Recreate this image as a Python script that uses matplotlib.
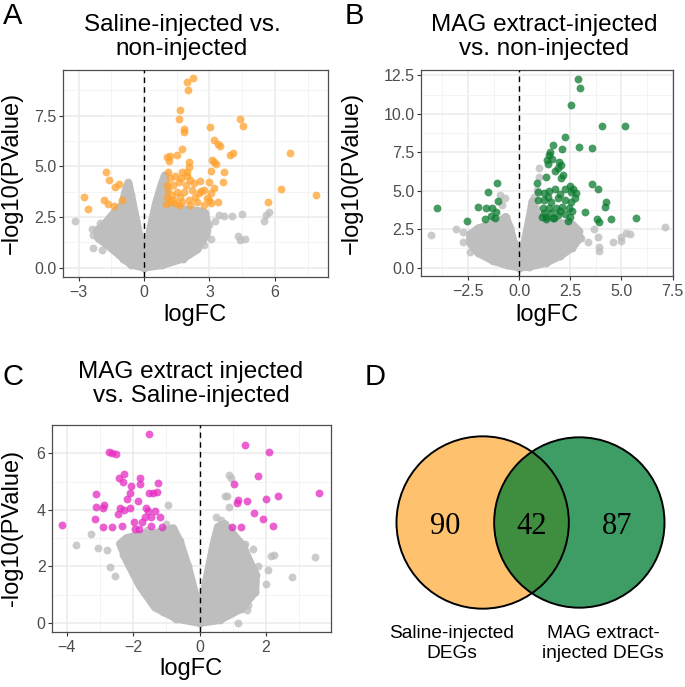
import numpy as np
import matplotlib
matplotlib.use("Agg")
import matplotlib.pyplot as plt
from matplotlib.patches import Polygon, Circle

plt.rcParams['font.family'] = ['Liberation Sans', 'DejaVu Sans']

# ---------------- data ----------------
# Panel A: Saline-injected vs. non-injected
a_sig_x = [2.24, 1.99, 2.01, 1.65, 1.58, 1.81, 1.81, 4.41, 4.52, 3.03, 3.22, 3.37, 3.49, 1.75, 4.10,
           3.95, 6.68, 1.04, 1.19, 1.15, 1.53, 2.04, 2.08, 3.11, 3.19, 3.06, 3.31, 3.68, 3.64, 1.12,
           1.73, 1.96, 2.11, 2.57, 3.00, 3.22, 2.63, 3.09, 3.37, 2.88, 3.06, 5.67, 6.28, 7.89,
           -1.76, -1.61, -1.33, -1.13, -2.76, -2.56, -1.82, -1.64, -1.38, -1.03,
           1.19, 1.42, 1.35, 1.12, 1.27, 1.50, 1.65, 1.19, 1.42, 1.73, 1.93, 2.19, 2.34, 2.04, 2.42,
           2.27, 1.58, 1.84, 1.04, 1.07, 2.11, 2.73, 2.50, 1.96, 1.70, 1.35, 1.01, 2.73, 2.96, 1.58]
a_sig_y = [9.34, 9.17, 8.78, 7.80, 7.34, 6.84, 6.68, 7.34, 7.01, 6.96, 6.31, 6.10, 5.98, 5.85, 5.65,
           5.57, 5.65, 5.45, 5.52, 5.27, 5.54, 5.19, 4.99, 5.32, 5.19, 4.78, 5.11, 4.71, 4.21, 4.74,
           4.74, 4.71, 4.33, 4.28, 4.21, 3.92, 3.80, 3.67, 3.22, 3.42, 3.17, 3.26, 3.88, 3.59,
           4.74, 4.31, 3.98, 4.15, 3.50, 2.89, 3.34, 3.12, 3.06, 3.34,
           4.41, 4.50, 4.08, 3.83, 3.59, 3.75, 3.50, 3.26, 3.17, 3.26, 4.08, 3.83, 3.50, 3.34, 3.26,
           4.16, 4.25, 3.75, 3.50, 4.08, 3.09, 3.09, 3.67, 4.50, 4.41, 3.34, 3.12, 3.83, 3.34, 3.09]
a_grey_x = [-3.17, -2.33, -2.33, -1.94, 3.26, 3.68, 4.03, 4.49, 5.51, 5.59, 5.71, 4.30, 4.41, 4.61,
            3.08, 2.73, 2.96, 2.88, 3.46, -2.4, -2.0, -0.7, 0.9, 1.0]
a_grey_y = [2.31, 1.60, 0.99, 0.89, 2.31, 2.55, 2.55, 2.64, 2.31, 2.60, 2.73, 1.57, 1.36, 1.40,
            1.40, 1.11, 2.10, 1.82, 2.60, 1.9, 2.2, 4.0, 4.3, 3.9]
# outline of the dense cloud of non-significant genes
a_cloud_x = [0.0, 0.08, 0.3, 0.55, 0.8, 0.95, 1.05, 1.5, 2.0, 2.5, 2.8, 2.9, 2.85, 2.45, 1.8, 0.8,
             0.0, -0.6, -0.95, -1.55, -2.1, -2.15, -1.85, -1.35, -1.0, -0.85, -0.72, -0.6, -0.35, -0.08]
a_cloud_y = [0.0, 0.85, 2.0, 3.2, 4.1, 4.55, 3.0, 2.9, 2.85, 2.8, 2.7, 2.2, 1.6, 0.9, 0.45, 0.12,
             0.0, 0.15, 0.45, 1.0, 1.45, 1.85, 2.1, 2.75, 3.1, 3.8, 4.2, 3.6, 2.3, 0.85]

# Panel B: MAG extract-injected vs. non-injected
b_sig_x = [2.88, 2.96, 2.52, 4.03, 5.15, 2.22, 1.66, 2.91, 3.54, 2.09, 1.53, 1.45, 1.37, 1.60, 1.40,
           1.97, 2.06, 1.76, 1.89, 2.14, 2.02, 1.33, 3.54, 3.87, 2.47, 2.63, 2.55, 2.80, 2.22, 1.73,
           1.48, 1.20, 0.94, 0.86, 0.90, 1.23, 1.56, 1.89, 2.22, 2.55, 2.71, 2.42, 2.11, 1.81, 1.48,
           1.15, 1.23, 1.56, 1.89, 2.22, 1.32, 1.64, 2.38, 3.21, 4.24, 4.19, 3.78, 3.91, 4.49, 5.71,
           1.30, 1.70, 2.00, 2.60, 1.40, 2.00, 2.50, 1.10,
           -1.10, -1.53, -1.04, -2.01, -1.64, -1.32, -1.12, -1.40, -1.68, -1.20, -4.03, -2.55]
b_sig_y = [12.25, 11.69, 10.56, 9.20, 9.20, 8.46, 7.97, 7.81, 7.75, 7.68, 7.49, 7.32, 6.99, 7.03, 6.71,
           6.88, 6.67, 6.28, 6.49, 6.02, 5.80, 5.91, 5.43, 5.11, 5.30, 5.11, 4.89, 4.83, 5.11, 5.11,
           4.98, 4.83, 4.89, 5.48, 4.39, 4.39, 4.29, 4.50, 4.39, 4.29, 4.50, 3.85, 3.96, 3.85, 3.90,
           3.90, 3.53, 3.53, 3.42, 3.46, 3.16, 3.25, 3.03, 3.64, 4.24, 3.96, 3.16, 2.99, 3.16, 3.20,
           3.30, 3.20, 3.70, 3.70, 4.60, 4.80, 3.30, 3.30,
           5.48, 4.94, 4.33, 3.96, 3.85, 3.90, 3.64, 3.38, 3.16, 3.20, 3.85, 3.03]
b_grey_x = [-4.31, -3.08, -2.75, -2.75, -2.38, -2.14, -0.95, -0.71, -0.82, 0.99, 0.99, 0.87, 3.04,
            3.67, 3.87, 3.92, 3.92, 4.61, 4.97, 4.97, 5.21, 5.43, 7.11, 2.63, 3.37, 0.7, 0.8]
b_grey_y = [2.12, 2.51, 2.34, 1.65, 1.00, 1.36, 4.72, 4.50, 4.07, 6.45, 5.91, 5.04, 1.95,
            2.51, 1.97, 1.36, 1.08, 1.69, 1.73, 2.01, 2.23, 2.19, 2.62, 2.55, 1.69, 4.6, 3.9]
b_cloud_x = [0.0, 0.07, 0.3, 0.5, 0.65, 0.8, 1.0, 1.5, 2.0, 2.6, 2.9, 2.95, 2.6, 2.0, 1.3, 0.5, 0.0,
             -0.6, -1.3, -2.0, -2.4, -2.4, -2.0, -1.5, -1.0, -0.66, -0.45, -0.25, -0.07]
b_cloud_y = [0.0, 0.6, 1.9, 3.2, 4.3, 3.6, 3.1, 2.95, 2.9, 2.8, 2.4, 1.9, 1.3, 0.75, 0.3, 0.05, 0.0,
             0.15, 0.45, 0.95, 1.6, 2.15, 2.55, 2.75, 3.0, 3.3, 2.6, 1.6, 0.6]

# Panel C: MAG extract injected vs. Saline-injected
c_sig_x = [-1.52, -2.72, -2.65, -2.52, 1.36, 2.10, -2.27, -2.42, -2.31, -1.79, -1.81, -2.07, -1.25,
           -3.11, -2.11, -1.53, -1.40, -1.28, -2.19, -1.87, -3.13, -2.87, -2.90, -2.40, -2.29, -2.09,
           -2.45, -1.63, -1.56, -1.36, -1.46, -1.20, -1.66, -3.14, -2.92, -2.65, -2.35, -1.97, -1.74,
           -1.94, -1.84, -1.48, -1.13, -4.16, 1.04, 1.75, 1.16, 1.13, 1.43, 2.00, 2.36, 3.59, 1.64,
           1.90, 2.20, 0.98, 1.24]
c_sig_y = [6.68, 6.03, 6.01, 5.97, 6.30, 6.03, 5.25, 5.11, 4.99, 5.11, 4.90, 4.84, 4.94,
           4.55, 4.58, 4.58, 4.60, 4.64, 4.37, 4.31, 4.11, 4.17, 4.05, 4.05, 4.01, 4.05,
           3.87, 4.05, 3.97, 3.97, 3.75, 3.75, 3.75, 3.68, 3.40, 3.40, 3.44, 3.58, 3.58,
           3.31, 3.31, 3.42, 3.38, 3.45, 4.90, 5.21, 4.34, 4.23, 4.31, 4.37, 4.49, 4.60, 3.90,
           3.66, 3.42, 3.38, 3.38]
c_grey_x = [-3.28, -3.74, -3.06, -2.80, -2.70, -2.55, -1.11, 0.35, 1.16, 1.44, 1.46, 0.90, 0.95, 0.83,
            0.75, 0.90, 1.38, 1.36, 1.75, 2.07, 2.15, 2.25, 2.00, 2.78, 3.49, -0.95, 0.50, 0.65,
            -2.3, -1.6, -1.0, 1.1, 1.6]
c_grey_y = [3.16, 2.75, 2.66, 2.57, 1.98, 1.65, 0.37, 0.80, 0.00, 0.47, 0.63, 5.23, 5.11, 4.49,
            4.49, 4.11, 2.79, 2.34, 2.01, 1.87, 2.37, 2.40, 1.37, 1.63, 2.34, 4.17, 3.75, 3.64,
            2.4, 3.3, 3.5, 3.0, 2.6]
c_cloud_x = [0.0, 0.06, 0.25, 0.42, 0.55, 0.75, 1.0, 1.3, 1.5, 1.7, 1.68, 1.25, 0.6, 0.0, -0.7, -1.35,
             -1.8, -2.0, -2.2, -2.4, -2.2, -1.7, -1.25, -0.8, -0.6, -0.35, -0.06]
c_cloud_y = [0.0, 0.7, 1.8, 2.8, 3.4, 3.5, 3.15, 2.75, 2.2, 1.7, 1.1, 0.5, 0.1, 0.0, 0.15, 0.55,
             1.3, 1.75, 2.2, 2.8, 3.0, 3.15, 3.2, 3.35, 2.9, 2.0, 0.7]

# Panel D: Venn counts (Saline only, shared, MAG only)
venn_counts = [90, 42, 87]
venn_labels = ["Saline-injected\nDEGs", "MAG extract-\ninjected DEGs"]

# ---------------- figure ----------------
W, H = 685, 687
fig = plt.figure(figsize=(W / 100, H / 100), dpi=100)

PT = 32          # marker area (pt^2)
PT_D = np.sqrt(PT)


def fx(px):
    return px / W


def fy(py):
    return 1 - py / H


def minus(s):
    return s.replace('-', '\u2212')


def volcano(box, xlim, ylim, xticks, xlabels, yticks, ylabels,
            cloud_x, cloud_y, grey_x, grey_y, sig_x, sig_y, col):
    l, t, r, b = box
    ax = fig.add_axes([fx(l), fy(b), (r - l) / W, (b - t) / H])
    ax.set_xticks(xticks)
    ax.set_xticklabels([minus(s) for s in xlabels])
    ax.set_yticks(yticks)
    ax.set_yticklabels([minus(s) for s in ylabels])
    step_x = xticks[1] - xticks[0]
    step_y = yticks[1] - yticks[0]
    ax.set_xticks(np.arange(xticks[0] - step_x * 1.5, xticks[-1] + step_x, step_x), minor=True)
    ax.set_yticks(np.arange(yticks[0] - step_y * 1.5, yticks[-1] + step_y, step_y), minor=True)
    ax.set_xlim(*xlim)
    ax.set_ylim(*ylim)
    ax.grid(True, which='major', color='#EBEBEB', lw=1.1, zorder=0)
    ax.grid(True, which='minor', color='#F2F2F2', lw=0.6, zorder=0)
    ax.set_axisbelow(True)
    ax.tick_params(which='minor', length=0)
    ax.tick_params(which='major', length=2.6, width=0.8, color='#333333',
                   labelsize=11.5, labelcolor='#4D4D4D')
    ax.tick_params(axis='x', pad=3)
    ax.tick_params(axis='y', pad=2)
    for s in ax.spines.values():
        s.set_color('#4D4D4D')
        s.set_linewidth(0.9)
    grey = '#BEBEBE'
    ax.add_patch(Polygon(np.column_stack([cloud_x, cloud_y]), closed=True,
                         facecolor=grey, edgecolor=grey, lw=PT_D, joinstyle='round', zorder=2))
    ax.scatter(cloud_x, cloud_y, s=PT, color=grey, lw=0, zorder=2)
    ax.scatter(grey_x, grey_y, s=PT, color=grey, alpha=0.8, lw=0, zorder=3)
    ax.scatter(sig_x, sig_y, s=PT, color=col, alpha=0.75, lw=0, zorder=4)
    ax.axvline(0, color='black', lw=1.0, ls=(0, (4, 3)), zorder=5)
    return ax


volcano((63, 70, 328, 277), (-3.72, 8.44), (-0.46, 9.75),
        [-3, 0, 3, 6], ['-3', '0', '3', '6'],
        [0, 2.5, 5.0, 7.5], ['0.0', '2.5', '5.0', '7.5'],
        a_cloud_x, a_cloud_y, a_grey_x, a_grey_y, a_sig_x, a_sig_y, '#FFA22E')
volcano((421, 70, 673, 276), (-4.8, 7.52), (-0.55, 12.85),
        [-2.5, 0, 2.5, 5.0, 7.5], ['-2.5', '0.0', '2.5', '5.0', '7.5'],
        [0, 2.5, 5.0, 7.5, 10.0, 12.5], ['0.0', '2.5', '5.0', '7.5', '10.0', '12.5'],
        b_cloud_x, b_cloud_y, b_grey_x, b_grey_y, b_sig_x, b_sig_y, '#0A7A2E')
volcano((52, 425, 331, 632), (-4.45, 3.96), (-0.32, 7.0),
        [-4, -2, 0, 2], ['-4', '-2', '0', '2'],
        [0, 2, 4, 6], ['0', '2', '4', '6'],
        c_cloud_x, c_cloud_y, c_grey_x, c_grey_y, c_sig_x, c_sig_y, '#E52BC1')

# titles, axis labels, panel letters
tkw = dict(fontsize=17.5, ha='center', va='baseline', color='black')
fig.text(fx(182), fy(31), "Saline-injected vs.", **tkw)
fig.text(fx(182), fy(55), "non-injected", **tkw)
fig.text(fx(544), fy(31), "MAG extract-injected", **tkw)
fig.text(fx(544), fy(55), "vs. non-injected", **tkw)
fig.text(fx(191), fy(378), "MAG extract injected", **tkw)
fig.text(fx(191), fy(402), "vs. Saline-injected", **tkw)

lkw = dict(fontsize=17, color='black')
fig.text(fx(195), fy(321), "logFC", ha='center', va='baseline', **lkw)
fig.text(fx(547), fy(321), "logFC", ha='center', va='baseline', **lkw)
fig.text(fx(191), fy(675), "logFC", ha='center', va='baseline', **lkw)
fig.text(fx(12), fy(173), "\u2212log10(PValue)", rotation=90, ha='center', va='center', **lkw)
fig.text(fx(352), fy(173), "\u2212log10(PValue)", rotation=90, ha='center', va='center', **lkw)
fig.text(fx(12), fy(528), "-log10(PValue)", rotation=90, ha='center', va='center', **lkw)

pkw = dict(fontsize=21, ha='left', va='baseline', color='black')
fig.text(fx(3), fy(24), "A", **pkw)
fig.text(fx(345), fy(24), "B", **pkw)
fig.text(fx(3), fy(385), "C", **pkw)
fig.text(fx(365), fy(385), "D", **pkw)

# ---------------- Venn diagram (area proportional) ----------------
axd = fig.add_axes([fx(340), 0, (W - 340) / W, 1 - fy(687) - (1 - fy(300))])
axd.set_xlim(340, W)
axd.set_ylim(687, 300)
axd.axis('off')

n1 = venn_counts[0] + venn_counts[1]
n2 = venn_counts[2] + venn_counts[1]
k = 7.5
r1, r2 = k * np.sqrt(n1), k * np.sqrt(n2)
target = np.pi * k * k * venn_counts[1]


def lens(d):
    a1 = r1 ** 2 * np.arccos((d * d + r1 ** 2 - r2 ** 2) / (2 * d * r1))
    a2 = r2 ** 2 * np.arccos((d * d + r2 ** 2 - r1 ** 2) / (2 * d * r2))
    a3 = 0.5 * np.sqrt((-d + r1 + r2) * (d + r1 - r2) * (d - r1 + r2) * (d + r1 + r2))
    return a1 + a2 - a3


lo, hi = abs(r1 - r2) + 1e-6, r1 + r2 - 1e-6
for _ in range(60):
    mid = (lo + hi) / 2
    if lens(mid) > target:
        lo = mid
    else:
        hi = mid
d = (lo + hi) / 2

span_mid, cy = 530.5, 522.5
left_edge = span_mid - (r1 + d + r2) / 2
c1 = left_edge + r1
c2 = c1 + d

circ1 = Circle((c1, cy), r1, facecolor='#FEC26F', edgecolor='none', zorder=1)
circ2 = Circle((c2, cy), r2, facecolor='#3D9D64', edgecolor='none', zorder=1)
axd.add_patch(circ1)
axd.add_patch(circ2)
inter = Circle((c2, cy), r2, facecolor='#3F8D3F', edgecolor='none', zorder=2)
axd.add_patch(inter)
inter.set_clip_path(circ1)
axd.add_patch(Circle((c1, cy), r1, facecolor='none', edgecolor='black', lw=1.4, zorder=3))
axd.add_patch(Circle((c2, cy), r2, facecolor='none', edgecolor='black', lw=1.4, zorder=3))

nkw = dict(fontsize=22, family=['Liberation Serif', 'DejaVu Serif'], ha='center',
           va='baseline', zorder=4)
axd.text((c1 - r1 + c2 - r2) / 2, cy + 11, str(venn_counts[0]), **nkw)
axd.text((c2 - r2 + c1 + r1) / 2, cy + 11, str(venn_counts[1]), **nkw)
axd.text((c1 + r1 + c2 + r2) / 2, cy + 11, str(venn_counts[2]), **nkw)

vkw = dict(fontsize=13.8, ha='center', va='baseline')
for lab, xc in zip(venn_labels, [452, 603]):
    l1, l2 = lab.split('\n')
    axd.text(xc, 638, l1, **vkw)
    axd.text(xc, 658, l2, **vkw)

fig.savefig("out.png", dpi=100)
